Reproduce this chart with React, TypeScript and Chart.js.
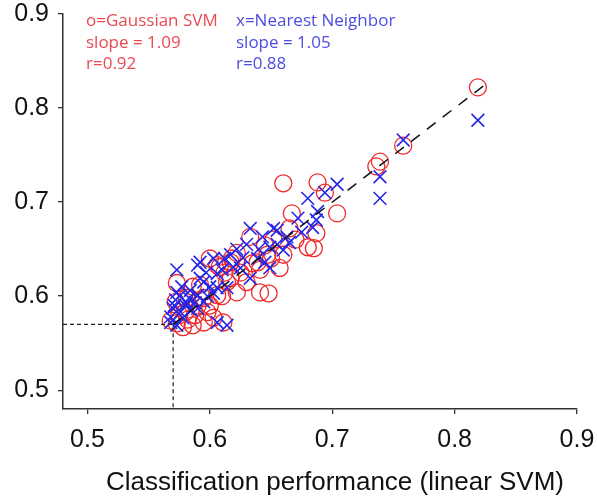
import React, { useEffect, useRef } from "react";
import { Chart, registerables } from "chart.js";

Chart.register(...registerables);

const axisMin = 0.48;
const axisMax = 0.9;
const tickValues = [0.5, 0.6, 0.7, 0.8, 0.9];

// Gaussian SVM (red circles)
const gaussX = [0.819, 0.758, 0.739, 0.736, 0.704, 0.667, 0.660, 0.688, 0.694, 0.665, 0.687, 0.680, 0.685, 0.652, 0.633, 0.645, 0.660, 0.647, 0.639, 0.657, 0.622, 0.641, 0.618, 0.600, 0.608, 0.630, 0.592, 0.614, 0.622, 0.641, 0.648, 0.586, 0.606, 0.573, 0.606, 0.617, 0.572, 0.581, 0.595, 0.573, 0.578, 0.586, 0.595, 0.603, 0.611, 0.568, 0.598, 0.617, 0.580, 0.588, 0.575, 0.582, 0.590, 0.600, 0.610, 0.625, 0.635, 0.612, 0.650, 0.670];
const gaussY = [0.822, 0.760, 0.743, 0.738, 0.688, 0.688, 0.720, 0.721, 0.710, 0.672, 0.667, 0.652, 0.651, 0.660, 0.663, 0.654, 0.644, 0.644, 0.636, 0.630, 0.646, 0.628, 0.640, 0.640, 0.631, 0.615, 0.612, 0.615, 0.604, 0.604, 0.603, 0.610, 0.601, 0.614, 0.633, 0.619, 0.594, 0.598, 0.598, 0.571, 0.567, 0.569, 0.572, 0.577, 0.572, 0.574, 0.583, 0.636, 0.583, 0.580, 0.580, 0.575, 0.590, 0.590, 0.600, 0.625, 0.635, 0.625, 0.640, 0.660];

// Nearest Neighbor (blue crosses)
const nnX = [0.819, 0.758, 0.739, 0.739, 0.704, 0.694, 0.680, 0.688, 0.687, 0.684, 0.655, 0.663, 0.633, 0.652, 0.643, 0.660, 0.649, 0.627, 0.619, 0.645, 0.592, 0.603, 0.617, 0.625, 0.639, 0.649, 0.633, 0.606, 0.595, 0.614, 0.603, 0.590, 0.573, 0.590, 0.592, 0.606, 0.573, 0.584, 0.570, 0.576, 0.568, 0.578, 0.590, 0.595, 0.614, 0.606, 0.573, 0.568, 0.672, 0.572, 0.581, 0.571, 0.575, 0.580, 0.585, 0.577, 0.583, 0.588, 0.598, 0.600, 0.597, 0.610, 0.622, 0.612, 0.630, 0.640, 0.655, 0.665, 0.675];
const nnY = [0.787, 0.766, 0.727, 0.704, 0.719, 0.710, 0.704, 0.690, 0.681, 0.673, 0.670, 0.663, 0.672, 0.672, 0.663, 0.649, 0.652, 0.641, 0.631, 0.636, 0.636, 0.640, 0.644, 0.630, 0.640, 0.630, 0.619, 0.624, 0.615, 0.609, 0.603, 0.601, 0.628, 0.633, 0.619, 0.609, 0.604, 0.606, 0.587, 0.583, 0.578, 0.577, 0.587, 0.594, 0.569, 0.572, 0.569, 0.572, 0.683, 0.596, 0.593, 0.590, 0.600, 0.590, 0.585, 0.610, 0.598, 0.593, 0.600, 0.610, 0.625, 0.628, 0.650, 0.640, 0.655, 0.650, 0.655, 0.657, 0.668];

const refLevel = 0.57;
const diagStart = 0.57;
const diagEnd = 0.825;

const gaussLines = ["o=Gaussian SVM", "slope = 1.09", "r=0.92"];
const nnLines = ["x=Nearest Neighbor", "slope = 1.05", "r=0.88"];
const xTitle = "Classification performance (linear SVM)";

const RED = "#ee2a2a";
const BLUE = "#2626e6";
const RED_TEXT = "#ea4a52";
const BLUE_TEXT = "#4d4de0";
const AXIS = "#333333";

const textPlugin = {
  id: "annotTexts",
  afterDraw(chart: any) {
    const ctx = chart.ctx;
    ctx.save();
    ctx.textAlign = "left";
    ctx.textBaseline = "alphabetic";
    ctx.font = '17px "Open Sans"';
    ctx.fillStyle = RED_TEXT;
    gaussLines.forEach((t, i) => ctx.fillText(t, 86, 26 + i * 21.5));
    ctx.fillStyle = BLUE_TEXT;
    nnLines.forEach((t, i) => ctx.fillText(t, 236, 26 + i * 21.5));
    ctx.font = '26px "Liberation Sans"';
    ctx.fillStyle = "#111111";
    ctx.textAlign = "center";
    ctx.fillText(xTitle, 335, 490);
    ctx.restore();
  },
};

export default function App() {
  const ref = useRef<HTMLCanvasElement | null>(null);
  useEffect(() => {
    if (!ref.current) return;
    const gaussPts = gaussX.map((x, i) => ({ x, y: gaussY[i] }));
    const nnPts = nnX.map((x, i) => ({ x, y: nnY[i] }));
    const tickFont = { family: '"Liberation Sans", Arial, sans-serif', size: 25 };
    const common = {
      type: "linear" as const,
      min: axisMin,
      max: axisMax,
      afterBuildTicks: (s: any) => {
        s.ticks = tickValues.map((v) => ({ value: v }));
      },
      grid: {
        drawOnChartArea: false,
        drawTicks: true,
        tickLength: 5,
        color: AXIS,
        lineWidth: 1.3,
      },
      border: { display: true, color: AXIS, width: 1.5 },
    };
    const chart = new Chart(ref.current, {
      type: "scatter",
      data: {
        datasets: [
          {
            type: "line",
            data: [
              { x: diagStart, y: diagStart },
              { x: diagEnd, y: diagEnd },
            ],
            borderColor: "#111111",
            borderWidth: 1.5,
            borderDash: [11, 9],
            pointRadius: 0,
            fill: false,
            order: 0,
          },
          {
            type: "line",
            data: [
              { x: axisMin, y: refLevel },
              { x: refLevel, y: refLevel },
              { x: refLevel, y: axisMin },
            ],
            borderColor: "#222222",
            borderWidth: 1.2,
            borderDash: [4, 3],
            pointRadius: 0,
            fill: false,
            order: 1,
          },
          {
            data: nnPts,
            pointStyle: "crossRot",
            pointRadius: 9,
            borderColor: BLUE,
            backgroundColor: BLUE,
            pointBorderWidth: 1.6,
            order: 2,
          },
          {
            data: gaussPts,
            pointStyle: "circle",
            pointRadius: 8.5,
            borderColor: RED,
            backgroundColor: "rgba(0,0,0,0)",
            pointBorderWidth: 1.3,
            order: 3,
          },
        ] as any,
      },
      options: {
        animation: false,
        responsive: false,
        layout: { padding: { top: 14, right: 20, left: 0, bottom: 0 } },
        plugins: {
          legend: { display: false },
          tooltip: { enabled: false },
        },
        scales: {
          x: {
            ...common,
            afterFit: (s: any) => {
              s.height = 87;
              s.paddingLeft = 0;
              s.paddingRight = 0;
            },
            ticks: {
              font: tickFont,
              color: "#111111",
              padding: 11,
              maxRotation: 0,
              autoSkip: false,
              callback: (v: any) => Number(v).toFixed(1),
            },
          },
          y: {
            ...common,
            afterFit: (s: any) => {
              s.width = 63;
              s.paddingTop = 0;
              s.paddingBottom = 0;
            },
            ticks: {
              font: tickFont,
              color: "#111111",
              padding: 9,
              autoSkip: false,
              callback: (v: any) => Number(v).toFixed(1),
            },
          },
        } as any,
      },
      plugins: [textPlugin],
    });
    return () => chart.destroy();
  }, []);
  return (
    <div style={{ position: "absolute", left: 0, top: 0, width: 597, height: 496, background: "#fff" }}>
      <canvas ref={ref} width={597} height={496} />
    </div>
  );
}
